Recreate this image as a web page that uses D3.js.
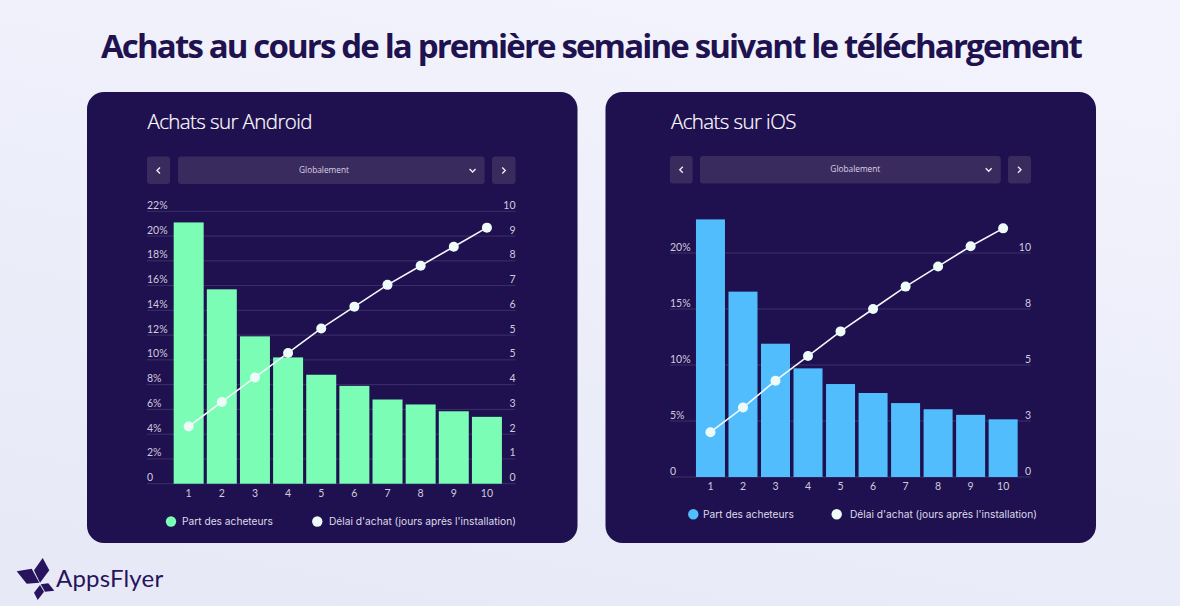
<!DOCTYPE html>
<html>
<head>
<meta charset="utf-8">
<script src="https://cdn.jsdelivr.net/npm/d3@7"></script>
<style>
  html, body { margin: 0; padding: 0; background: #eeeffa; }
  svg { display: block; }
</style>
</head>
<body>
<div id="chart"></div>
<script>
// Data
const days = [1, 2, 3, 4, 5, 6, 7, 8, 9, 10];

const androidShare = [21.1, 15.7, 11.9, 10.2, 8.8, 7.9, 6.8, 6.4, 5.85, 5.4];
const androidDelay = [2.1, 3.0, 3.9, 4.8, 5.7, 6.5, 7.3, 8.0, 8.7, 9.4];
const androidLeftTicks = [0, 2, 4, 6, 8, 10, 12, 14, 16, 18, 20, 22];
const androidRightLabels = ["0", "1", "2", "3", "4", "5", "5", "6", "7", "8", "9", "10"];

const iosShare = [23.0, 16.55, 11.9, 9.7, 8.3, 7.5, 6.6, 6.05, 5.55, 5.15];
const iosDelay = [2.0, 3.1, 4.3, 5.4, 6.5, 7.5, 8.5, 9.4, 10.3, 11.1];
const iosLeftTicks = [0, 5, 10, 15, 20];
const iosRightLabels = ["0", "3", "5", "8", "10"];

const legendBar = "Part des acheteurs";
const legendLine = "Délai d'achat (jours après l'installation)";

const width = 1180;
const height = 606;
const tickFont = "Lato, sans-serif";
const legendFont = "Inter, sans-serif";
const textFont = "'Open Sans', sans-serif";

const svg = d3.select("#chart")
  .append("svg")
  .attr("width", width)
  .attr("height", height);

// Page background
const defs = svg.append("defs");
const bgGrad = defs.append("linearGradient")
  .attr("id", "bg")
  .attr("x1", 0.7).attr("y1", 0).attr("x2", 0.3).attr("y2", 1);
bgGrad.append("stop").attr("offset", "0%").attr("stop-color", "#f2f3fc");
bgGrad.append("stop").attr("offset", "100%").attr("stop-color", "#e7e9f7");
svg.append("rect")
  .attr("width", width)
  .attr("height", height)
  .attr("fill", "url(#bg)");

// Main title
svg.append("text")
  .attr("x", 591)
  .attr("y", 58)
  .attr("text-anchor", "middle")
  .attr("font-family", textFont)
  .attr("font-weight", 700)
  .attr("font-size", 33)
  .attr("letter-spacing", -1.85)
  .attr("fill", "#20124f")
  .text("Achats au cours de la première semaine suivant le téléchargement");

// Draws one card: controls, gridlines, bars, line and legend
function drawPanel(cfg) {
  const g = svg.append("g");

  g.append("rect")
    .attr("x", cfg.card[0])
    .attr("y", 92)
    .attr("width", cfg.card[1])
    .attr("height", 451)
    .attr("rx", 17)
    .attr("fill", "#1f1050");

  g.append("text")
    .attr("x", cfg.titleX)
    .attr("y", 129)
    .attr("font-family", textFont)
    .attr("font-weight", 300)
    .attr("font-size", 20.5)
    .attr("letter-spacing", -0.6)
    .attr("fill", "#ffffff")
    .attr("stroke", "#ffffff")
    .attr("stroke-width", 0.2)
    .text(cfg.title);

  // Selector row
  const ctrlY = cfg.ctrlY;
  const buttons = [cfg.prev, cfg.select, cfg.next];
  g.selectAll(".ctrl")
    .data(buttons)
    .enter()
    .append("rect")
    .attr("class", "ctrl")
    .attr("x", d => d[0])
    .attr("y", ctrlY)
    .attr("width", d => d[1] - d[0])
    .attr("height", 27.5)
    .attr("rx", 3)
    .attr("fill", "#3a2b5f");

  g.append("text")
    .attr("x", (cfg.select[0] + cfg.select[1]) / 2 + cfg.labelShift)
    .attr("y", ctrlY + 16.4)
    .attr("text-anchor", "middle")
    .attr("font-family", textFont)
    .attr("font-size", 8.3)
    .attr("fill", "#d9d5e6")
    .text("Globalement");

  const chevron = (cx, pts) => g.append("path")
    .attr("d", d3.line()(pts.map(p => [cx + p[0], ctrlY + 13.8 + p[1]])))
    .attr("fill", "none")
    .attr("stroke", "#eeeaf5")
    .attr("stroke-width", 1.4);
  chevron((cfg.prev[0] + cfg.prev[1]) / 2, [[1.5, -3], [-1.5, 0], [1.5, 3]]);
  chevron((cfg.next[0] + cfg.next[1]) / 2, [[-1.5, -3], [1.5, 0], [-1.5, 3]]);
  chevron(cfg.select[1] - 12, [[-3, -1.5], [0, 1.5], [3, -1.5]]);

  // Scales
  const x = d3.scaleBand()
    .domain(days)
    .range(cfg.xRange)
    .paddingInner(cfg.padding)
    .paddingOuter(cfg.padding / 2);
  const yLeft = d3.scaleLinear().domain(cfg.leftDomain).range(cfg.yRange);
  const yRight = d3.scaleLinear().domain(cfg.rightDomain).range(cfg.yRange);

  // Gridlines, with left and right tick labels sitting on top of them
  const ticks = g.selectAll(".tick-row")
    .data(cfg.leftTicks)
    .enter()
    .append("g")
    .attr("class", "tick-row")
    .attr("transform", d => `translate(0,${yLeft(d)})`);

  ticks.append("line")
    .attr("x1", cfg.axisX[0])
    .attr("x2", cfg.axisX[1])
    .attr("stroke", "#3d3068")
    .attr("stroke-width", 1);

  ticks.append("text")
    .attr("x", cfg.axisX[0])
    .attr("y", -2.5)
    .attr("font-family", tickFont)
    .attr("font-size", 10.5)
    .attr("fill", "#cfccdc")
    .text(d => d === 0 ? "0" : d + "%");

  ticks.append("text")
    .attr("x", cfg.axisX[1])
    .attr("y", -2.5)
    .attr("text-anchor", "end")
    .attr("font-family", tickFont)
    .attr("font-size", 10.5)
    .attr("fill", "#cfccdc")
    .text((d, i) => cfg.rightLabels[i]);

  // Bars
  g.selectAll(".bar")
    .data(cfg.share)
    .enter()
    .append("rect")
    .attr("class", "bar")
    .attr("x", (d, i) => x(days[i]))
    .attr("y", d => yLeft(d))
    .attr("width", x.bandwidth())
    .attr("height", d => yLeft(0) - yLeft(d))
    .attr("fill", cfg.color);

  // X axis labels
  const xAxis = g.append("g")
    .attr("transform", `translate(0,${yLeft(0)})`)
    .call(d3.axisBottom(x).tickSize(0).tickPadding(6));
  xAxis.select(".domain").remove();
  xAxis.selectAll("text")
    .attr("font-family", tickFont)
    .attr("font-size", 10.5)
    .attr("fill", "#cfccdc");

  // Delay line
  const line = d3.line()
    .x((d, i) => x(days[i]) + x.bandwidth() / 2)
    .y(d => yRight(d));
  g.append("path")
    .datum(cfg.delay)
    .attr("d", line)
    .attr("fill", "none")
    .attr("stroke", "#f4f8fa")
    .attr("stroke-width", 1.6);
  g.selectAll(".dot")
    .data(cfg.delay)
    .enter()
    .append("circle")
    .attr("class", "dot")
    .attr("cx", (d, i) => x(days[i]) + x.bandwidth() / 2)
    .attr("cy", d => yRight(d))
    .attr("r", 5)
    .attr("fill", "#eefbf8");

  // Legend
  const legend = g.append("g")
    .attr("font-family", legendFont)
    .attr("font-size", 10.2)
    .attr("fill", "#dedbe9");
  legend.append("circle")
    .attr("cx", cfg.legend[0]).attr("cy", cfg.legendY).attr("r", 5.2).attr("fill", cfg.color);
  legend.append("text")
    .attr("x", cfg.legend[1]).attr("y", cfg.legendY + 3.7).text(legendBar);
  legend.append("circle")
    .attr("cx", cfg.legend[2]).attr("cy", cfg.legendY).attr("r", 5.2).attr("fill", "#eefbf8");
  legend.append("text")
    .attr("x", cfg.legend[3]).attr("y", cfg.legendY + 3.7).text(legendLine);
}

drawPanel({
  title: "Achats sur Android",
  titleX: 147.5,
  card: [87, 490.5],
  ctrlY: 156.6,
  prev: [147, 170], select: [178, 484.6], next: [492, 515.5],
  labelShift: -7.3,
  axisX: [147, 515.5],
  xRange: [172.1, 503.5],
  yRange: [483.7, 211.3],
  padding: 0.095,
  leftDomain: [0, 22],
  rightDomain: [0, 10],
  leftTicks: androidLeftTicks,
  rightLabels: androidRightLabels,
  share: androidShare,
  delay: androidDelay,
  color: "#7bfdb6",
  legend: [171, 182, 317.3, 329],
  legendY: 521.5
});

drawPanel({
  title: "Achats sur iOS",
  titleX: 671,
  card: [605.5, 490.5],
  ctrlY: 156,
  prev: [670, 692.6], select: [700, 1000.7], next: [1008, 1031],
  labelShift: 5,
  axisX: [670, 1031],
  xRange: [694.2, 1019.4],
  yRange: [477, 253],
  padding: 0.108,
  leftDomain: [0, 20],
  rightDomain: [0, 10],
  leftTicks: iosLeftTicks,
  rightLabels: iosRightLabels,
  share: iosShare,
  delay: iosDelay,
  color: "#52bdfd",
  legend: [693.3, 703, 836.7, 850],
  legendY: 514.3
});

// AppsFlyer logo
const logoShapes = [
  [[42.7, 558], [49.3, 570.3], [40, 582.7], [34, 570.3]],
  [[16.7, 571.3], [31.7, 568.7], [39.3, 582.7], [26.7, 583.7]],
  [[40.7, 584.3], [48.3, 583.3], [54.3, 590.7], [45, 591.7]],
  [[40, 585], [44, 591.7], [37.7, 600], [34, 592.7]]
];
const logo = svg.append("g").attr("fill", "#27145c");
logo.selectAll("path")
  .data(logoShapes)
  .enter()
  .append("path")
  .attr("d", d => d3.line()(d) + "Z");
logo.append("text")
  .attr("x", 56)
  .attr("y", 587)
  .attr("font-family", "Lato, sans-serif")
  .attr("font-size", 24)
  .attr("letter-spacing", 0.2)
  .text("AppsFlyer");
</script>
</body>
</html>
